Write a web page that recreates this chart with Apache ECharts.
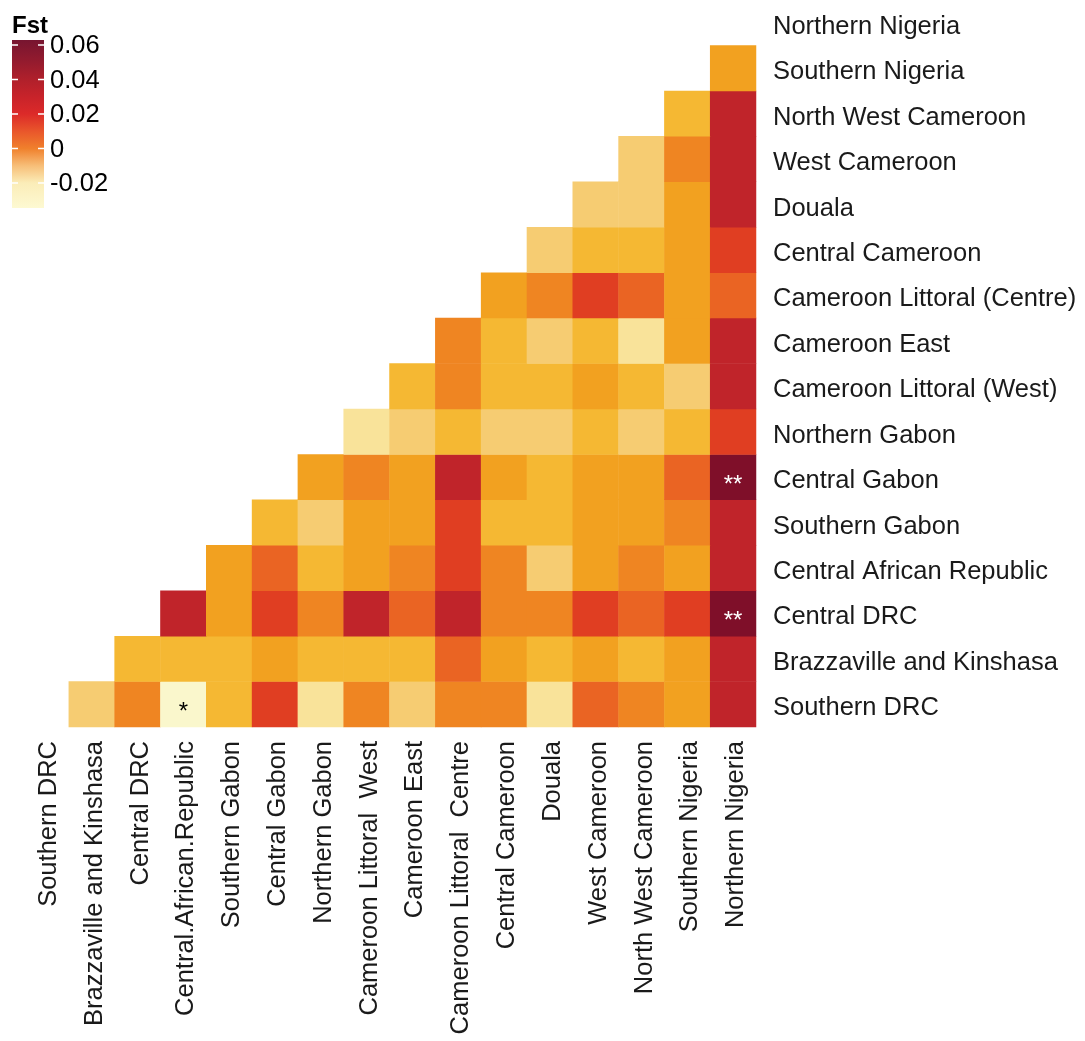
<!DOCTYPE html>
<html>
<head>
<meta charset="utf-8">
<script src="https://cdn.jsdelivr.net/npm/echarts@6/dist/echarts.min.js"></script>
<style>
  html, body { margin: 0; padding: 0; background: #fff; }
  #chart { width: 1085px; height: 1041px; }
</style>
</head>
<body>
<div id="chart"></div>
<script>
// column labels (bottom) and row labels (right), same population order
const xLabels = [
  "Southern DRC", "Brazzaville and Kinshasa", "Central DRC", "Central.African.Republic",
  "Southern Gabon", "Central Gabon", "Northern Gabon", "Cameroon Littoral  West",
  "Cameroon East", "Cameroon Littoral  Centre", "Central Cameroon", "Douala",
  "West Cameroon", "North West Cameroon", "Southern Nigeria", "Northern Nigeria"
];
const yLabels = [
  "Southern DRC", "Brazzaville and Kinshasa", "Central DRC", "Central African Republic",
  "Southern Gabon", "Central Gabon", "Northern Gabon", "Cameroon Littoral (West)",
  "Cameroon East", "Cameroon Littoral (Centre)", "Central Cameroon", "Douala",
  "West Cameroon", "North West Cameroon", "Southern Nigeria", "Northern Nigeria"
];

// pairwise Fst, row i holds the values for columns i+1 .. 15
const fstSouthernDRC   = [-0.010, 0.005, -0.025, -0.005, 0.020, -0.015, 0.005, -0.010, 0.005, 0.005, -0.015, 0.010, 0.005, 0.000, 0.035];
const fstBrazzKinshasa = [-0.005, -0.005, -0.005, 0.000, -0.005, -0.005, -0.005, 0.010, 0.000, -0.005, 0.000, -0.005, 0.000, 0.035];
const fstCentralDRC    = [0.035, 0.000, 0.020, 0.005, 0.035, 0.010, 0.035, 0.005, 0.005, 0.020, 0.010, 0.020, 0.060];
const fstCAR           = [0.000, 0.010, -0.005, 0.000, 0.005, 0.020, 0.005, -0.010, 0.000, 0.005, 0.000, 0.035];
const fstSouthernGabon = [-0.005, -0.010, 0.000, 0.000, 0.020, -0.005, -0.005, 0.000, 0.000, 0.005, 0.035];
const fstCentralGabon  = [0.000, 0.005, 0.000, 0.035, 0.000, -0.005, 0.000, 0.000, 0.010, 0.060];
const fstNorthernGabon = [-0.015, -0.010, -0.005, -0.010, -0.010, -0.005, -0.010, -0.005, 0.020];
const fstCamLittWest   = [-0.005, 0.005, -0.005, -0.005, 0.000, -0.005, -0.010, 0.035];
const fstCameroonEast  = [0.005, -0.005, -0.010, -0.005, -0.015, 0.000, 0.035];
const fstCamLittCentre = [0.000, 0.005, 0.020, 0.010, 0.000, 0.010];
const fstCentralCam    = [-0.010, -0.005, -0.005, 0.000, 0.020];
const fstDouala        = [-0.010, -0.010, 0.000, 0.035];
const fstWestCameroon  = [-0.010, 0.005, 0.035];
const fstNWCameroon    = [-0.005, 0.035];
const fstSouthNigeria  = [0.000];
const fstNorthNigeria  = [];

const fstRows = [
  fstSouthernDRC, fstBrazzKinshasa, fstCentralDRC, fstCAR, fstSouthernGabon,
  fstCentralGabon, fstNorthernGabon, fstCamLittWest, fstCameroonEast, fstCamLittCentre,
  fstCentralCam, fstDouala, fstWestCameroon, fstNWCameroon, fstSouthNigeria, fstNorthNigeria
];

// significance marks: [column, row, text]
const signif = [[15, 5, "**"], [15, 2, "**"], [3, 0, "*"]];

// legend ticks
const legendTicks = [0.06, 0.04, 0.02, 0, -0.02];
const fstMin = -0.035;
const fstMax = 0.065;

const font = "'Liberation Sans', Arial, sans-serif";
const textColor = "#1a1a1a";

// cell colour ramp, one stop every 0.005 from fstMin to fstMax
const rampColors = [
  "#fefcda", "#fcfad3", "#faf7cc", "#f9edb3", "#f9e39a", "#f6cc72", "#f5b833",
  "#f2a120", "#ef8522", "#ea6423", "#e55023", "#e03e22", "#d6322a", "#cb2a2a",
  "#c0242a", "#b01f2a", "#a21a2b", "#93152b", "#88122a", "#7f0f29", "#761029"
];

// colour bar as drawn in the legend (value -> colour)
const barVals = [0.0629, 0.05, 0.04, 0.03, 0.02, 0.01, 0, -0.01, -0.02, -0.0345];
const barCols = ["#771530", "#951b2e", "#b0202b", "#c8232a", "#dc2a29", "#e9562b",
                 "#f0802c", "#f7be78", "#fbedb8", "#fdf9d2"];

const data = [];
fstRows.forEach((row, i) => {
  row.forEach((v, k) => data.push([i + 1 + k, i, v]));
});

const seriesData = data.map((d) => {
  const s = signif.find((m) => m[0] === d[0] && m[1] === d[1]);
  if (!s) return d;
  return {
    value: d,
    label: {
      show: true,
      formatter: s[2],
      color: d[2] > 0.04 ? "#fff" : "#000",
      fontSize: 24,
      fontFamily: font,
      offset: [0, 8],
    },
  };
});

// legend bar geometry
const barLeft = 12;
const barWidth = 32;
const barTop = 40;
const barHeight = 168;
const barHi = barVals[0];
const barLo = barVals[barVals.length - 1];
const tickY = (v) => barTop + ((barHi - v) / (barHi - barLo)) * barHeight;

const graphics = [
  {
    type: "text",
    x: 12,
    y: 26,
    style: { text: "Fst", fill: "#000", font: "bold 24px " + font, verticalAlign: "middle" },
    z: 10,
  },
  {
    type: "rect",
    shape: { x: barLeft, y: barTop, width: barWidth, height: barHeight },
    style: {
      fill: new echarts.graphic.LinearGradient(0, 0, 0, 1,
        barVals.map((v, i) => ({ offset: (barHi - v) / (barHi - barLo), color: barCols[i] }))),
    },
    z: 5,
  },
];
legendTicks.forEach((v) => {
  const y = tickY(v);
  graphics.push({
    type: "text",
    x: barLeft + barWidth + 6,
    y: y + 1,
    style: { text: String(v), fill: "#000", font: "25.5px " + font, verticalAlign: "middle" },
    z: 10,
  });
  graphics.push({
    type: "line",
    shape: { x1: barLeft, y1: y, x2: barLeft + 6, y2: y },
    style: { stroke: "#fff", lineWidth: 1.5 },
    z: 10,
  });
  graphics.push({
    type: "line",
    shape: { x1: barLeft + barWidth - 6, y1: y, x2: barLeft + barWidth, y2: y },
    style: { stroke: "#fff", lineWidth: 1.5 },
    z: 10,
  });
});

const labelRich = (pad) => ({
  t: { padding: pad, fontSize: 25.5, fontFamily: font, color: textColor },
});

const chart = echarts.init(document.getElementById("chart"), null, { renderer: "canvas" });
chart.setOption({
  animation: false,
  backgroundColor: "#fff",
  grid: { left: 23, top: -3, width: 733, height: 730 },
  xAxis: {
    type: "category",
    data: xLabels,
    position: "bottom",
    axisLine: { show: false },
    axisTick: { show: false },
    splitLine: { show: false },
    axisLabel: {
      interval: 0, rotate: 90, margin: 14,
      formatter: (v) => "{t|" + v + "}",
      rich: labelRich([6, 0, 0, 0]),
    },
  },
  yAxis: {
    type: "category",
    data: yLabels,
    position: "right",
    axisLine: { show: false },
    axisTick: { show: false },
    splitLine: { show: false },
    axisLabel: {
      interval: 0, margin: 17,
      formatter: (v) => "{t|" + v + "}",
      rich: labelRich([8, 0, 0, 0]),
    },
  },
  visualMap: {
    type: "continuous",
    show: false,
    min: fstMin,
    max: fstMax,
    inRange: { color: rampColors },
  },
  graphic: graphics,
  series: [
    {
      type: "heatmap",
      data: seriesData,
      label: { show: false },
      itemStyle: { borderWidth: 0 },
      emphasis: { disabled: true },
    },
  ],
});
</script>
</body>
</html>
